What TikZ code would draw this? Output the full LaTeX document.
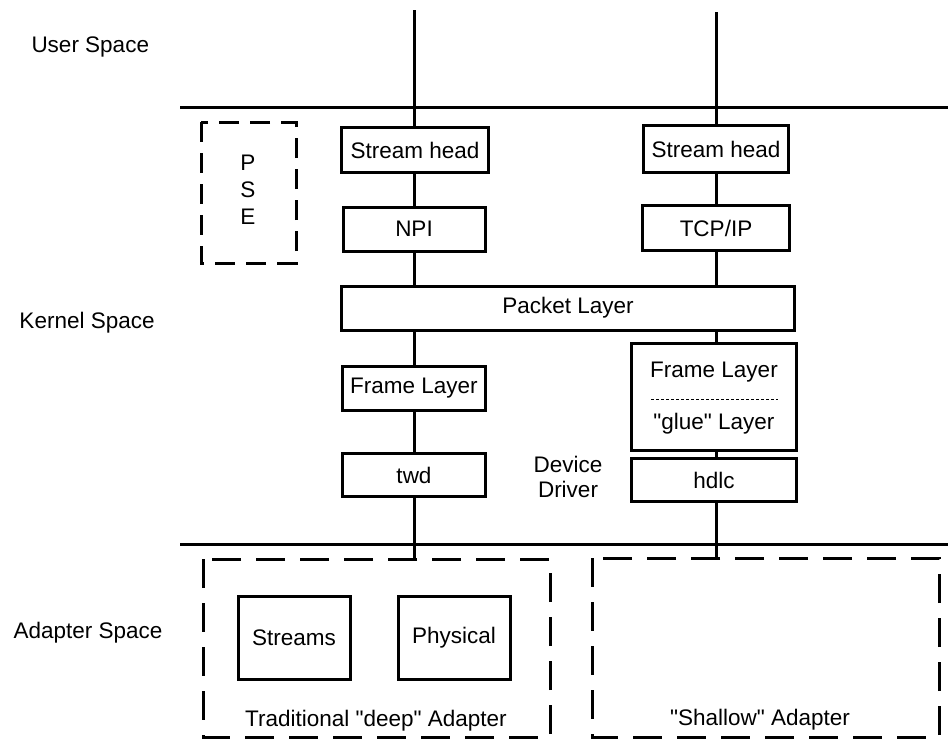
\documentclass[tikz,border=0pt]{standalone}
\usepackage{fontspec}
\setmainfont{Liberation Sans}
\newcommand\sq{\XeTeXglyph\XeTeXglyphindex "quotedbl"\relax}
\begin{document}
\begin{tikzpicture}[x=1pt,y=-1pt,
  line width=3pt,
  box/.style={draw, line width=3pt, rectangle, inner sep=0pt, font=\fontsize{22.5}{27}\selectfont},
  dbox/.style={draw, line width=3pt, dash pattern=on 29pt off 15pt},
  pbox/.style={draw, line width=3pt, dash pattern=on 20pt off 11pt},
  lbl/.style={font=\fontsize{22.5}{27}\selectfont, inner sep=0pt}]
\useasboundingbox (0,0) rectangle (948,740);
% space boundaries
\draw (180,107) -- (948,107);
\draw (180,544) -- (948,544);
% left column
\coordinate (top1) at (414,10);
\coordinate (bot1) at (414,558);
\node[box, minimum width=147pt, minimum height=45pt] (sh1) at (415,150) {Stream head};
\node[box, minimum width=142pt, minimum height=44pt] (npi) at (414,229) {NPI};
\node[box, minimum width=453pt, minimum height=44pt] (pkt) at (568,308) {Packet Layer};
\node[box, minimum width=143pt, minimum height=44pt] (fl1) at (414,388) {Frame Layer};
\node[box, minimum width=143pt, minimum height=43pt] (twd) at (414,475) {twd};
% right column
\coordinate (top2) at (716,12);
\coordinate (bot2) at (716,557);
\node[box, minimum width=145pt, minimum height=47pt] (sh2) at (716,149) {Stream head};
\node[box, minimum width=147pt, minimum height=45pt] (tcp) at (716,228) {TCP/IP};
\node[box, minimum width=165pt, minimum height=107pt] (flg) at (714,397) {};
\node[lbl] (fl2) at (714,372) {Frame Layer};
\node[lbl] (glue) at (714,424) {\sq glue\sq{} Layer};
\draw[line width=0.8pt, dash pattern=on 3pt off 2pt] (651,399) -- (778,399);
\node[box, minimum width=165pt, minimum height=43pt] (hdlc) at (714,480) {hdlc};
% connectors
\draw (top1) -- (sh1.north -| top1);
\draw (sh1.south -| top1) -- (npi.north);
\draw (npi.south) -- (npi.south |- pkt.north);
\draw (pkt.south -| fl1) -- (fl1.north);
\draw (fl1.south) -- (twd.north);
\draw (twd.south) -- (bot1);
\draw (top2) -- (sh2.north);
\draw (sh2.south) -- (tcp.north);
\draw (tcp.south) -- (tcp.south |- pkt.north);
\draw (pkt.south -| top2) -- (flg.north -| top2);
\draw (flg.south -| top2) -- (hdlc.north -| top2);
\draw (hdlc.south -| top2) -- (bot2);
% PSE
\draw[pbox] (201,122) rectangle (296,263);
\node[lbl, align=center, font=\fontsize{22.5}{27}\selectfont] (pse) at (248,190) {P\\S\\E};
% adapters
\draw[dbox] (203,559) rectangle (550,737);
\draw[dbox] (592,558) rectangle (939,737);
\node[box, minimum width=112pt, minimum height=83pt] (streams) at (294,637.5) {Streams};
\node[box, minimum width=112pt, minimum height=83pt] (phys) at (454,637.5) {Physical};
\node[lbl] (deep) at (376,721) {Traditional \sq deep\sq{} Adapter};
\node[lbl] (shallow) at (760,720) {\sq Shallow\sq{} Adapter};
% side labels
\node[lbl, anchor=west] (us) at (30,47) {User Space};
\node[lbl, anchor=west] (ks) at (18,323) {Kernel Space};
\node[lbl, anchor=west] (as) at (12,633) {Adapter Space};
\node[lbl, align=center, font=\fontsize{22.5}{25}\selectfont] (dd) at (568,477) {Device\\Driver};
\end{tikzpicture}
\end{document}
